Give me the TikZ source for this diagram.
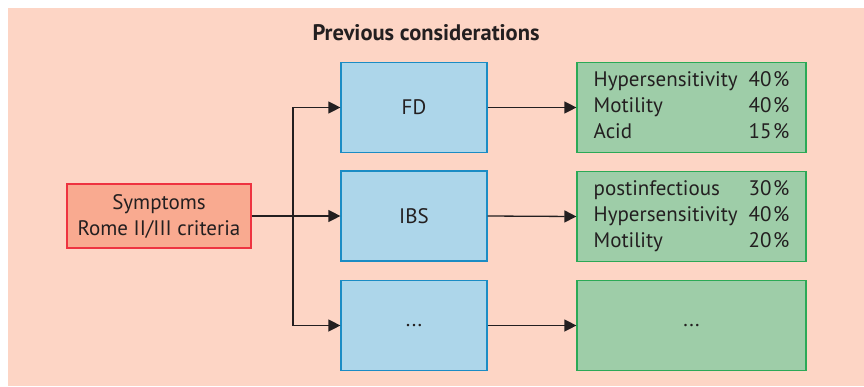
\documentclass[tikz,border=0pt]{standalone}
\usepackage{fontspec}
\setmainfont{PT Sans}
\usetikzlibrary{arrows.meta}
\definecolor{bgpink}{HTML}{FDD5C5}
\definecolor{symfill}{HTML}{F9AA90}
\definecolor{symdraw}{HTML}{EE3340}
\definecolor{bluefill}{HTML}{ADD6EA}
\definecolor{bluedraw}{HTML}{1B8CC4}
\definecolor{greenfill}{HTML}{9ECDA8}
\definecolor{greendraw}{HTML}{2BA956}
\definecolor{ink}{HTML}{231F20}
\tikzset{
  box/.style={draw, line width=1.2pt, inner sep=0pt, text=ink,
    font=\fontsize{21}{26}\selectfont, align=center},
  symbox/.style={box, fill=symfill, draw=symdraw, minimum width=184pt, minimum height=64pt},
  typebox/.style={box, fill=bluefill, draw=bluedraw, minimum width=146pt, minimum height=90pt},
  causebox/.style={box, fill=greenfill, draw=greendraw, minimum width=229pt, minimum height=90pt},
  link/.style={draw=ink, line width=1.3pt, -{Triangle[length=12pt,width=12pt]}},
}
\newcommand{\pct}[1]{#1\kern1.5pt\%}
\begin{document}
\begin{tikzpicture}[x=1pt,y=-1pt]
\useasboundingbox (0,0) rectangle (864,386);
\fill[bgpink] (8,8) rectangle (864,386);

\node[font=\fontsize{22.5}{24}\selectfont\bfseries, text=ink] (title) at (426,33) {Previous considerations};

\node[symbox] (sym) at (159,216) {Symptoms\\Rome II/III criteria};

\node[typebox] (fd)  at (414,107.5) {FD};
\node[typebox] (ibs) at (414,216) {IBS};
\node[typebox] (etc) at (414,325.5) {...};

\node[causebox] (cfd) at (691.5,107.5) {%
  \begin{tabular}{@{}l@{\hspace{11pt}}r@{}}
  Hypersensitivity & \pct{40} \\ Motility & \pct{40} \\ Acid & \pct{15}
  \end{tabular}};
\node[causebox] (cibs) at (691.5,216.5) {%
  \begin{tabular}{@{}l@{\hspace{11pt}}r@{}}
  postinfectious & \pct{30} \\ Hypersensitivity & \pct{40} \\ Motility & \pct{20}
  \end{tabular}};
\node[causebox] (cetc) at (691.5,325.5) {...};

% branching from the symptoms box
\coordinate (split) at (293,216);
\draw[link] (sym.east) -- (ibs.west);
\draw[link] (split) |- (fd.west);
\draw[link] (split) |- (etc.west);

% each type to its causes
\draw[link] (fd.east) -- (cfd.west);
\draw[link] (ibs.east) -- (cibs.west);
\draw[link] (etc.east) -- (cetc.west);
\end{tikzpicture}
\end{document}
